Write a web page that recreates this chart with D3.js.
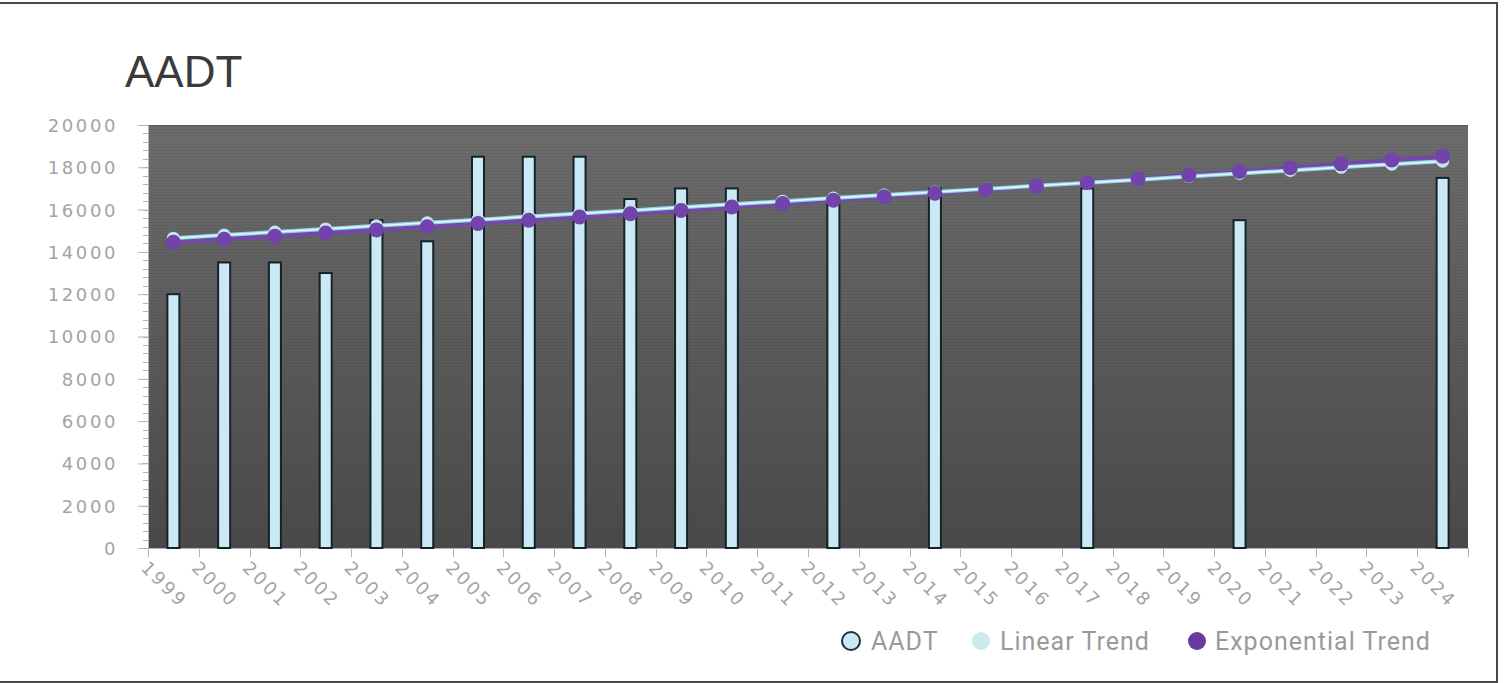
<!DOCTYPE html>
<html>
<head>
<meta charset="utf-8">
<script src="https://cdn.jsdelivr.net/npm/d3@7"></script>
<style>
  html, body { margin: 0; padding: 0; background: #fff; }
  svg { display: block; }
</style>
</head>
<body>
<svg id="chart" width="1506" height="683"></svg>
<script>
// Years on the category axis
const years = ["1999","2000","2001","2002","2003","2004","2005","2006","2007","2008","2009","2010",
  "2011","2012","2013","2014","2015","2016","2017","2018","2019","2020","2021","2022","2023","2024"];

// Annual average daily traffic counts (null = no count that year)
const aadt = [12000, 13500, 13500, 13000, 15500, 14500, 18500, 18500, 18500, 16500, 17000, 17000,
  null, 16500, null, 17000, null, null, 17000, null, null, 15500, null, null, null, 17500];

// Linear trend fitted to the counts
const linearTrend = [14650, 14796, 14941, 15087, 15232, 15378, 15524, 15669, 15815, 15960, 16106, 16252,
  16397, 16543, 16688, 16834, 16980, 17125, 17271, 17416, 17562, 17708, 17853, 17999, 18144, 18290];

// Exponential trend fitted to the counts
const expTrend = [14455, 14599, 14745, 14892, 15040, 15190, 15342, 15495, 15650, 15806, 15963, 16123,
  16284, 16446, 16610, 16776, 16943, 17112, 17283, 17455, 17630, 17806, 17983, 18163, 18344, 18527];

const yTicks = [0, 2000, 4000, 6000, 8000, 10000, 12000, 14000, 16000, 18000, 20000];

const seriesNames = ["AADT", "Linear Trend", "Exponential Trend"];

const svg = d3.select("#chart");
const plot = { left: 148, right: 1468, top: 125, bottom: 548 };

// Outer frame
svg.append("rect")
  .attr("x", -2).attr("y", 3).attr("width", 1499).attr("height", 679)
  .attr("fill", "none").attr("stroke", "#4a4a4a").attr("stroke-width", 2);

const defs = svg.append("defs");
const grad = defs.append("linearGradient").attr("id", "bg")
  .attr("x1", 0).attr("y1", 0).attr("x2", 0).attr("y2", 1);
grad.append("stop").attr("offset", "0%").attr("stop-color", "#6c6c6c");
grad.append("stop").attr("offset", "100%").attr("stop-color", "#4a4a4a");

const stripes = defs.append("pattern").attr("id", "stripes")
  .attr("patternUnits", "userSpaceOnUse").attr("width", 8).attr("height", 3);
stripes.append("rect").attr("x", 0).attr("y", 0).attr("width", 8).attr("height", 1)
  .attr("fill", "#000").attr("opacity", 0.05);

const x = d3.scaleBand().domain(years).range([plot.left, plot.right]);
const y = d3.scaleLinear().domain([0, 20000]).range([plot.bottom, plot.top]);

// Plot background
svg.append("rect")
  .attr("x", plot.left).attr("y", plot.top)
  .attr("width", plot.right - plot.left).attr("height", plot.bottom - plot.top)
  .attr("fill", "url(#bg)");
svg.append("rect")
  .attr("x", plot.left).attr("y", plot.top)
  .attr("width", plot.right - plot.left).attr("height", plot.bottom - plot.top)
  .attr("fill", "url(#stripes)");
svg.append("line")
  .attr("x1", plot.left).attr("x2", plot.right)
  .attr("y1", plot.top + 0.5).attr("y2", plot.top + 0.5)
  .attr("stroke", "#5a5a5a").attr("stroke-width", 1);

// Title
svg.append("text")
  .attr("x", 125).attr("y", 87)
  .attr("font-family", "Liberation Sans, Arial, sans-serif")
  .attr("font-size", 44).attr("fill", "#3a3a3a")
  .text("AADT");

const labelFont = "DejaVu Sans, sans-serif";
const axisColor = "#b4b4b4";
const labelColor = "#a4a4a4";

// Y axis: minor ticks, major ticks and labels
const minorTicks = d3.range(0, 20001, 400);
svg.append("g").selectAll("line").data(minorTicks).join("line")
  .attr("x1", plot.left - 5).attr("x2", plot.left)
  .attr("y1", d => Math.round(y(d)) + 0.5).attr("y2", d => Math.round(y(d)) + 0.5)
  .attr("stroke", axisColor).attr("stroke-width", 1);

const yAxis = d3.axisLeft(y).tickValues(yTicks).tickSize(10).tickPadding(20)
  .tickFormat(d3.format("d"));
const yg = svg.append("g").attr("transform", `translate(${plot.left},0)`).call(yAxis);
yg.select(".domain").attr("stroke", axisColor);
yg.selectAll(".tick line").attr("stroke", axisColor);
yg.selectAll(".tick text")
  .attr("font-family", labelFont).attr("font-size", 18)
  .attr("letter-spacing", 2.6).attr("fill", labelColor)
  .attr("dy", "0.36em");

// X axis: ticks at band boundaries
const xTickPos = years.map(d => x(d)).concat([plot.right]);
svg.append("line")
  .attr("x1", plot.left).attr("x2", plot.right)
  .attr("y1", plot.bottom + 0.5).attr("y2", plot.bottom + 0.5)
  .attr("stroke", axisColor);
svg.append("g").selectAll("line").data(xTickPos).join("line")
  .attr("x1", d => Math.round(d) + 0.5).attr("x2", d => Math.round(d) + 0.5)
  .attr("y1", plot.bottom).attr("y2", plot.bottom + 9)
  .attr("stroke", axisColor);
svg.append("g").selectAll("text").data(years).join("text")
  .attr("transform", d => `translate(${x(d) + 1},${plot.bottom + 12}) rotate(45)`)
  .attr("font-family", labelFont).attr("font-size", 18)
  .attr("letter-spacing", 2.6).attr("fill", labelColor)
  .attr("dy", "0.7em")
  .text(d => d);

// Bars
const barW = 12;
svg.append("g").selectAll("rect")
  .data(years.map((yr, i) => ({ yr, v: aadt[i] })).filter(d => d.v != null))
  .join("rect")
  .attr("x", d => x(d.yr) + x.bandwidth() / 2 - barW / 2)
  .attr("y", d => y(d.v))
  .attr("width", barW)
  .attr("height", d => y(0) - y(d.v))
  .attr("fill", "#cbe9f5")
  .attr("stroke", "#14232a").attr("stroke-width", 2);

const cx = d => x(d) + x.bandwidth() / 2;
const line = d3.line().x(d => cx(d.yr)).y(d => y(d.v));
const linPts = years.map((yr, i) => ({ yr, v: linearTrend[i] }));
const expPts = years.map((yr, i) => ({ yr, v: expTrend[i] }));

// Trend lines
svg.append("path").datum(expPts).attr("d", line)
  .attr("fill", "none").attr("stroke", "#7447ad").attr("stroke-width", 4);
svg.append("path").datum(linPts).attr("d", line)
  .attr("fill", "none").attr("stroke", "#8fd3e6").attr("stroke-width", 4);
svg.append("path").datum(linPts).attr("d", line)
  .attr("fill", "none").attr("stroke", "#eaf8fb").attr("stroke-width", 1.5);

svg.append("g").selectAll("circle").data(linPts).join("circle")
  .attr("cx", d => cx(d.yr)).attr("cy", d => y(d.v)).attr("r", 6.5)
  .attr("fill", "#c3e6ee");
svg.append("g").selectAll("circle").data(expPts).join("circle")
  .attr("cx", d => cx(d.yr)).attr("cy", d => y(d.v)).attr("r", 7.5)
  .attr("fill", "#7243ab");

// Legend
const legend = [
  { name: seriesNames[0], cx: 851, tx: 871, fill: "#cbe9f5", stroke: "#1e2f36" },
  { name: seriesNames[1], cx: 981, tx: 1000, fill: "#c9ebed", stroke: "none" },
  { name: seriesNames[2], cx: 1197, tx: 1215, fill: "#6a3a9e", stroke: "none" }
];
const lg = svg.append("g").selectAll("g").data(legend).join("g");
lg.append("circle")
  .attr("cx", d => d.cx).attr("cy", 641).attr("r", 9)
  .attr("fill", d => d.fill).attr("stroke", d => d.stroke).attr("stroke-width", 2);
lg.append("text")
  .attr("x", d => d.tx).attr("y", 650)
  .attr("font-family", "Roboto, sans-serif").attr("font-size", 25)
  .attr("letter-spacing", 1).attr("fill", "#9a9a9a")
  .text(d => d.name);
</script>
</body>
</html>
